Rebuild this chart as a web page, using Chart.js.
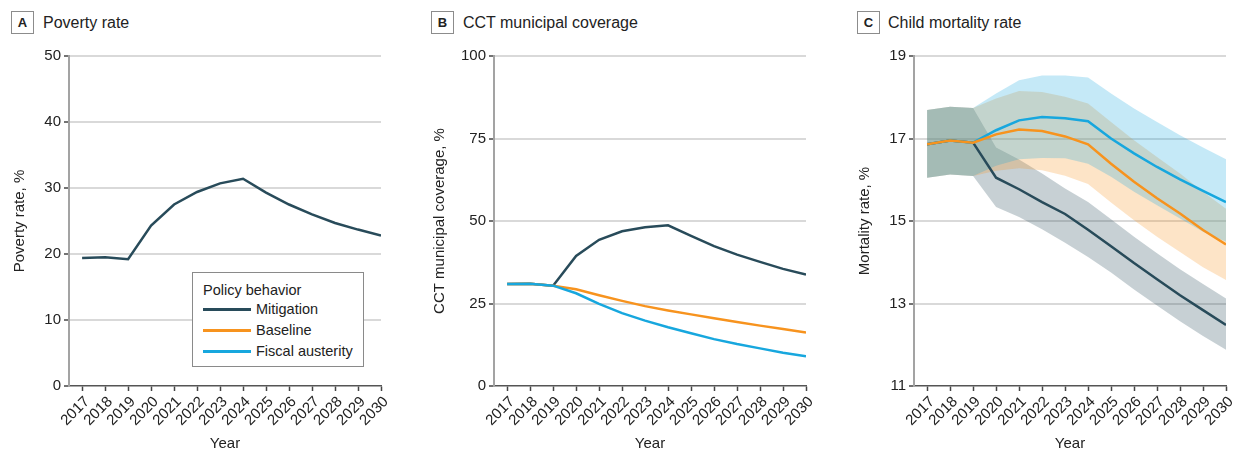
<!DOCTYPE html>
<html>
<head>
<meta charset="utf-8">
<script src="https://cdn.jsdelivr.net/npm/chart.js@4.4.1/dist/chart.umd.min.js"></script>
<style>
  body { margin: 0; background: #fff; width: 1238px; height: 454px; position: relative; overflow: hidden;
         font-family: "Liberation Sans", Arial, sans-serif; color: #222; }
  .panel { position: absolute; top: 0; height: 454px; }
  .tag { position: absolute; top: 11px; width: 21px; height: 21px; border: 1px solid #8c8c8c;
         font-weight: bold; font-size: 13px; line-height: 21px; text-align: center; }
  .title { position: absolute; top: 11px; font-size: 16px; line-height: 23px; white-space: nowrap; }
  #legend { position: absolute; left: 192px; top: 272px; width: 170px; height: 93px;
            border: 1px solid #8a8a8a; background: #fff; font-size: 14.5px; }
  #legend .head { position: absolute; left: 10px; top: 8px; line-height: 18px; white-space: nowrap; }
  #legend .swatch { position: absolute; left: 10px; width: 48px; height: 3px; }
  #legend .name { position: absolute; left: 63px; line-height: 18px; white-space: nowrap; }
</style>
</head>
<body>
<div class="tag" style="left:11px">A</div><div class="title" style="left:43px">Poverty rate</div>
<div class="tag" style="left:431px">B</div><div class="title" style="left:463px">CCT municipal coverage</div>
<div class="tag" style="left:857px">C</div><div class="title" style="left:888px">Child mortality rate</div>

<div class="panel" style="left:0px"><canvas id="chartA" width="400" height="454"></canvas></div>
<div class="panel" style="left:420px"><canvas id="chartB" width="406" height="454"></canvas></div>
<div class="panel" style="left:845px"><canvas id="chartC" width="393" height="454"></canvas></div>
<div id="legend"></div>

<script>
// years on the x axis
const years = [2017, 2018, 2019, 2020, 2021, 2022, 2023, 2024, 2025, 2026, 2027, 2028, 2029, 2030];

// A - poverty rate, %
const povertyMitigation = [19.4, 19.5, 19.2, 24.3, 27.5, 29.4, 30.7, 31.4, 29.3, 27.5, 26.0, 24.7, 23.7, 22.8];

// B - CCT municipal coverage, %
const coverageMitigation = [30.9, 31.0, 30.4, 39.4, 44.3, 46.9, 48.1, 48.7, 45.5, 42.4, 39.8, 37.6, 35.5, 33.8];
const coverageBaseline = [30.9, 31.0, 30.4, 29.3, 27.5, 25.8, 24.2, 22.9, 21.7, 20.5, 19.4, 18.3, 17.3, 16.2];
const coverageAusterity = [30.9, 31.0, 30.4, 28.1, 24.9, 22.1, 19.8, 17.8, 16.0, 14.2, 12.7, 11.4, 10.1, 9.0];

// C - child mortality rate, % (with uncertainty bands)
const mortalityMitigation = [16.86, 16.95, 16.9, 16.05, 15.77, 15.46, 15.17, 14.79, 14.39, 13.98, 13.59, 13.2, 12.84, 12.48];
const mortalityMitigationHigh = [17.69, 17.77, 17.74, 16.78, 16.49, 16.15, 15.79, 15.46, 15.04, 14.62, 14.22, 13.83, 13.47, 13.12];
const mortalityMitigationLow = [16.05, 16.13, 16.09, 15.34, 15.1, 14.8, 14.47, 14.13, 13.75, 13.34, 12.95, 12.57, 12.21, 11.88];
const mortalityBaseline = [16.86, 16.95, 16.9, 17.1, 17.22, 17.18, 17.05, 16.86, 16.39, 15.95, 15.55, 15.18, 14.78, 14.43];
const mortalityBaselineHigh = [17.69, 17.77, 17.74, 17.97, 18.15, 18.13, 18.01, 17.85, 17.4, 16.96, 16.55, 16.15, 15.71, 15.3];
const mortalityBaselineLow = [16.05, 16.13, 16.09, 16.22, 16.28, 16.23, 16.1, 15.9, 15.45, 15.02, 14.62, 14.25, 13.88, 13.57];
const mortalityAusterity = [16.86, 16.95, 16.9, 17.2, 17.44, 17.52, 17.49, 17.42, 17.0, 16.64, 16.31, 16.01, 15.73, 15.46];
const mortalityAusterityHigh = [17.69, 17.77, 17.74, 18.09, 18.41, 18.53, 18.53, 18.48, 18.09, 17.73, 17.4, 17.08, 16.78, 16.5];
const mortalityAusterityLow = [16.05, 16.13, 16.09, 16.34, 16.5, 16.53, 16.52, 16.39, 16.07, 15.71, 15.38, 15.06, 14.74, 14.5];

const povertyTicks = [0, 10, 20, 30, 40, 50];
const coverageTicks = [0, 25, 50, 75, 100];
const mortalityTicks = [11, 13, 15, 17, 19];

const seriesNames = ['Mitigation', 'Baseline', 'Fiscal austerity'];
const seriesColors = ['#284b5a', '#f7931e', '#17a7de'];
const bandColors = ['rgba(40, 75, 90, 0.26)', 'rgba(247, 147, 30, 0.25)', 'rgba(23, 167, 222, 0.25)'];

Chart.defaults.font.family = '"Liberation Sans", Arial, sans-serif';
Chart.defaults.color = '#222';

function pts(arr) {
    return years.map((x, i) => ({ x: x, y: arr[i] }));
}

function line(i, arr) {
    return { label: seriesNames[i], data: pts(arr), borderColor: seriesColors[i], borderWidth: 2.5,
             pointRadius: 0, fill: false, tension: 0 };
}

function band(i, high, low) {
    return [
        { data: pts(high), borderWidth: 0, borderColor: 'rgba(0,0,0,0)', pointRadius: 0,
          backgroundColor: bandColors[i], fill: '+1', tension: 0 },
        { data: pts(low), borderWidth: 0, borderColor: 'rgba(0,0,0,0)', pointRadius: 0, fill: false, tension: 0 }
    ];
}

function options(yTicks, yTitle, padLeft, yWidth, padRight) {
    return {
        responsive: false,
        animation: false,
        layout: { padding: { left: padLeft, top: 56, right: padRight, bottom: 0 } },
        plugins: { legend: { display: false }, tooltip: { enabled: false } },
        scales: {
            x: {
                type: 'linear', min: 2016.43, max: 2030, bounds: 'data',
                afterBuildTicks: (s) => { s.ticks = years.map(v => ({ value: v })); },
                afterFit: (s) => { s.height = 68; s.paddingLeft = 0; s.paddingRight = 0; },
                ticks: { autoSkip: false, minRotation: 45, maxRotation: 45, padding: 2, labelOffset: 5,
                         font: { size: 15 }, callback: (v) => String(v) },
                grid: { drawOnChartArea: false, tickLength: 5, tickColor: '#444', tickWidth: 1.5 },
                border: { color: '#555', width: 1.5 },
                title: { display: true, text: 'Year', font: { size: 15 }, padding: { top: 4, bottom: 1 } }
            },
            y: {
                min: yTicks[0], max: yTicks[yTicks.length - 1],
                afterBuildTicks: (s) => { s.ticks = yTicks.map(v => ({ value: v })); },
                afterFit: (s) => { s.width = yWidth; },
                ticks: { padding: 3, font: { size: 15 } },
                grid: {
                    color: (c) => (c.tick && c.tick.value === yTicks[0]) ? 'rgba(0,0,0,0)' : '#d9d9d9',
                    lineWidth: 2, tickColor: '#444', tickLength: 5, tickWidth: 1.5
                },
                border: { color: '#a3a3a3', width: 2 },
                title: { display: true, text: yTitle, font: { size: 15 }, padding: { top: 4, bottom: 4 } }
            }
        }
    };
}

new Chart(document.getElementById('chartA'), {
    type: 'line',
    data: { datasets: [line(0, povertyMitigation)] },
    options: options(povertyTicks, 'Poverty rate, %', 7, 62, 19)
});

new Chart(document.getElementById('chartB'), {
    type: 'line',
    data: { datasets: [line(2, coverageAusterity), line(1, coverageBaseline), line(0, coverageMitigation)] },
    options: options(coverageTicks, 'CCT municipal coverage, %', 7, 67, 20)
});

// first dataset is drawn on top
new Chart(document.getElementById('chartC'), {
    type: 'line',
    data: {
        datasets: [
            line(1, mortalityBaseline),
            line(2, mortalityAusterity),
            line(0, mortalityMitigation),
            ...band(2, mortalityAusterityHigh, mortalityAusterityLow),
            ...band(1, mortalityBaselineHigh, mortalityBaselineLow),
            ...band(0, mortalityMitigationHigh, mortalityMitigationLow)
        ]
    },
    options: options(mortalityTicks, 'Mortality rate, %', 7, 62, 12)
});

// legend in panel A
const legend = document.getElementById('legend');
legend.innerHTML = '<div class="head">Policy behavior</div>';
seriesNames.forEach((name, i) => {
    const top = 26.5 + 21.3 * i;
    legend.innerHTML += '<div class="swatch" style="top:' + (top + 8) + 'px;background:' + seriesColors[i] + '"></div>' +
                        '<div class="name" style="top:' + top + 'px">' + name + '</div>';
});
</script>
</body>
</html>
